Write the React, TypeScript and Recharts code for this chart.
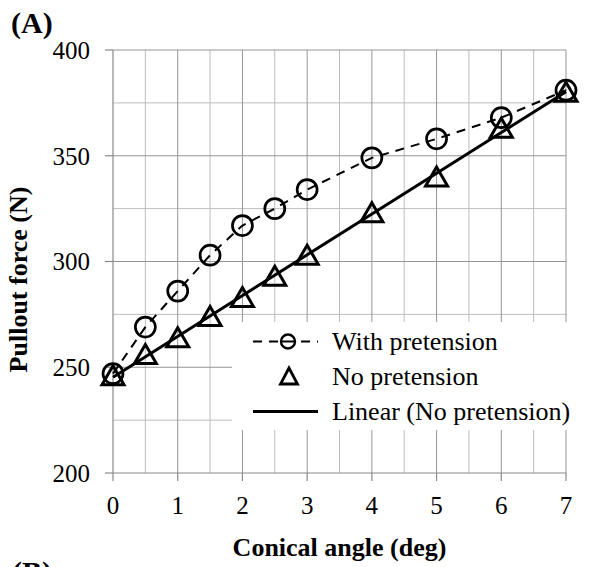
import React from 'react';
import { ComposedChart, Scatter, XAxis, YAxis, ReferenceLine, Legend } from 'recharts';

const angles = [0, 0.5, 1, 1.5, 2, 2.5, 3, 4, 5, 6, 7];
const withPretension = [247, 269, 286, 303, 317, 325, 334, 349, 358, 368, 381];
const noPretension = [246, 256, 264, 274, 283, 293, 303, 323, 340, 363, 380];
const trendAngles = [0, 7];
const trendValues = [245.3, 380.3];
const xTicks = [0, 1, 2, 3, 4, 5, 6, 7];
const yTicks = [200, 250, 300, 350, 400];
const xMajorGrid = [1, 2, 3, 4, 5, 6, 7];
const xMinorGrid = [0.5, 1.5, 2.5, 3.5, 4.5, 5.5, 6.5];
const yMajorGrid = [250, 300, 350, 400];
const yMinorGrid = [225, 275, 325, 375];
const legendLabels = ['With pretension', 'No pretension', 'Linear (No pretension)'];

const withData = angles.map((x, i) => ({ x, y: withPretension[i] }));
const noData = angles.map((x, i) => ({ x, y: noPretension[i] }));
const trendData = trendAngles.map((x, i) => ({ x, y: trendValues[i] }));

const FONT = '"Liberation Serif", "Times New Roman", serif';

const CircleShape = (props: any) => {
  const { cx, cy } = props;
  if (cx == null || cy == null) return <g />;
  return <circle cx={cx} cy={cy} r={10} fill="none" stroke="#000" strokeWidth={2.7} />;
};

const TriangleShape = (props: any) => {
  const { cx, cy } = props;
  if (cx == null || cy == null) return <g />;
  const pts = `${cx},${cy - 10} ${cx - 11},${cy + 9} ${cx + 11},${cy + 9}`;
  return <polygon points={pts} fill="none" stroke="#000" strokeWidth={3} strokeLinejoin="miter" />;
};

const EmptyShape = () => <g />;

const LegendContent = () => (
  <div style={{ width: 358, height: 108, background: '#fff', fontFamily: FONT, fontSize: 26, color: '#000', position: 'relative' }}>
    {legendLabels.map((label, i) => (
      <div key={label} style={{ position: 'absolute', left: 0, top: i * 35 + 2, height: 35, width: 358, display: 'flex', alignItems: 'center' }}>
        <svg width={100} height={35} style={{ flex: 'none' }}>
          {i === 0 && (
            <g>
              <line x1={21} y1={17.5} x2={86} y2={17.5} stroke="#000" strokeWidth={2} strokeDasharray="9 7" />
              <circle cx={56} cy={17.5} r={7} fill="#fff" stroke="#000" strokeWidth={2.4} />
              <line x1={49} y1={17.5} x2={63} y2={17.5} stroke="#000" strokeWidth={2} />
            </g>
          )}
          {i === 1 && (
            <polygon points={`57,9 48.5,25 65.5,25`} fill="none" stroke="#000" strokeWidth={2.8} />
          )}
          {i === 2 && <line x1={21} y1={17.5} x2={86} y2={17.5} stroke="#000" strokeWidth={3} />}
        </svg>
        <span style={{ whiteSpace: 'nowrap', lineHeight: '35px' }}>{label}</span>
      </div>
    ))}
  </div>
);

const YLabel = (props: any) => {
  const vb = props.viewBox || { x: 0, y: 50, width: 113, height: 423 };
  const cx = vb.x + 18;
  const cy = vb.y + vb.height / 2 + 18;
  return (
    <text
      transform={`translate(${cx},${cy}) rotate(-90)`}
      textAnchor="middle"
      dy="0.35em"
      fontFamily={FONT}
      fontSize={26}
      fontWeight="bold"
      fill="#000"
    >
      Pullout force (N)
    </text>
  );
};

export default function App() {
  return (
    <div style={{ position: 'absolute', left: 0, top: 0, width: 590, height: 567, background: '#fff', overflow: 'hidden' }}>
      <ComposedChart width={590} height={567} margin={{ top: 50, right: 24, bottom: 0, left: 0 }}>
        {xMinorGrid.map((v) => (
          <ReferenceLine key={'xm' + v} x={v} stroke="#bdbdbd" strokeWidth={1} />
        ))}
        {yMinorGrid.map((v) => (
          <ReferenceLine key={'ym' + v} y={v} stroke="#bdbdbd" strokeWidth={1} />
        ))}
        {xMajorGrid.map((v) => (
          <ReferenceLine key={'xM' + v} x={v} stroke="#959595" strokeWidth={1} />
        ))}
        {yMajorGrid.map((v) => (
          <ReferenceLine key={'yM' + v} y={v} stroke="#959595" strokeWidth={1} />
        ))}
        <XAxis
          type="number"
          dataKey="x"
          domain={[0, 7]}
          ticks={xTicks}
          interval={0}
          height={94}
          tickSize={8}
          tickMargin={15}
          axisLine={{ stroke: '#8a8a8a', strokeWidth: 1.2 }}
          tickLine={{ stroke: '#8a8a8a', strokeWidth: 1.2 }}
          tick={{ fill: '#000', fontFamily: FONT, fontSize: 25 }}
          label={{
            value: 'Conical angle (deg)',
            position: 'insideBottom',
            offset: 11,
            fill: '#000',
            fontFamily: FONT,
            fontSize: 26,
            fontWeight: 'bold',
          }}
        />
        <YAxis
          type="number"
          dataKey="y"
          domain={[200, 400]}
          ticks={yTicks}
          interval={0}
          width={113}
          tickSize={8}
          tickMargin={15}
          axisLine={{ stroke: '#8a8a8a', strokeWidth: 1.2 }}
          tickLine={{ stroke: '#8a8a8a', strokeWidth: 1.2 }}
          tick={{ fill: '#000', fontFamily: FONT, fontSize: 25 }}
          label={<YLabel />}
        />
        <Scatter
          name="Linear (No pretension)"
          data={trendData}
          shape={EmptyShape}
          line={{ stroke: '#000', strokeWidth: 3 }}
          isAnimationActive={false}
        />
        <Scatter
          name="With pretension"
          data={withData}
          shape={CircleShape}
          line={{ stroke: '#000', strokeWidth: 2, strokeDasharray: '9 7' }}
          isAnimationActive={false}
        />
        <Scatter name="No pretension" data={noData} shape={TriangleShape} isAnimationActive={false} />
        <Legend
          layout="horizontal"
          verticalAlign="middle"
          align="center"
          content={<LegendContent />}
          wrapperStyle={{ position: 'absolute', left: 232, top: 322, width: 358, height: 108, margin: 0, padding: 0 }}
        />
      </ComposedChart>
      <div style={{ position: 'absolute', left: 11, top: 8, fontFamily: FONT, fontSize: 30, fontWeight: 'bold', lineHeight: '30px', color: '#000' }}>(A)</div>
      <div style={{ position: 'absolute', left: 12, top: 557, fontFamily: FONT, fontSize: 30, fontWeight: 'bold', lineHeight: '30px', color: '#000' }}>(B)</div>
    </div>
  );
}
